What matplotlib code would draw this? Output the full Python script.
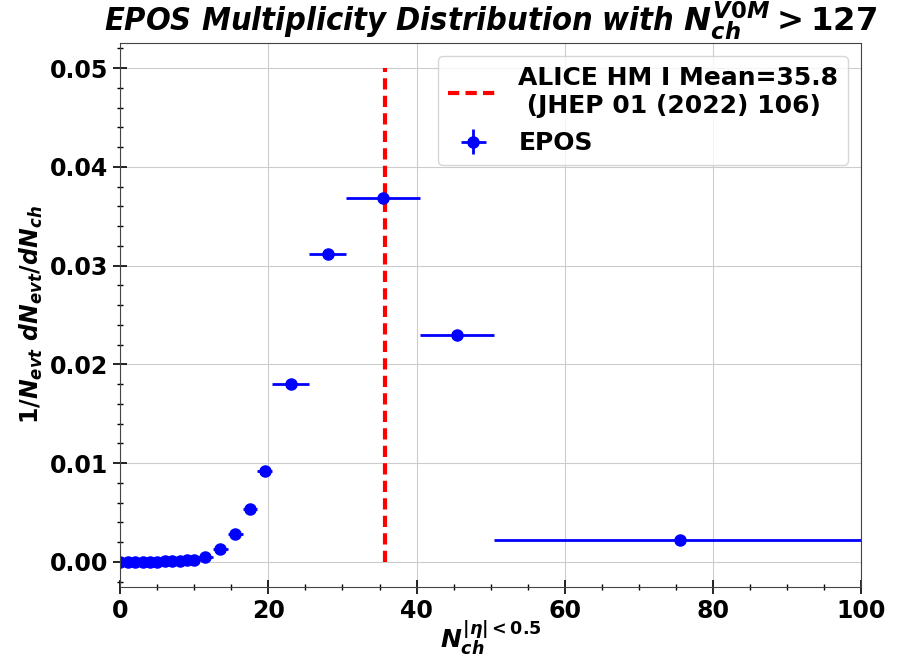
import matplotlib
matplotlib.use('Agg')
import matplotlib.pyplot as plt
from matplotlib.ticker import MultipleLocator

plt.rcParams['mathtext.fontset'] = 'custom'
plt.rcParams['mathtext.rm'] = 'DejaVu Sans:bold'
plt.rcParams['mathtext.it'] = 'DejaVu Sans:bold:italic'
plt.rcParams['mathtext.bf'] = 'DejaVu Sans:bold'

# EPOS multiplicity distribution (bin centres, half widths, values)
nch = [0, 1, 2, 3, 4, 5, 6, 7, 8, 9, 10,
       11.5, 13.5, 15.5, 17.5, 19.5, 23, 28, 35.5, 45.5, 75.5]
nch_err = [0.5, 0.5, 0.5, 0.5, 0.5, 0.5, 0.5, 0.5, 0.5, 0.5, 0.5,
           1, 1, 1, 1, 1, 2.5, 2.5, 5, 5, 25]
dndn = [0.00001, 0.00001, 0.00002, 0.00002, 0.00003, 0.00004, 0.00006,
        0.00008, 0.00011, 0.00015, 0.0002,
        0.0005, 0.0013, 0.0028, 0.0054, 0.0092, 0.0180, 0.0312, 0.0368,
        0.0230, 0.0022]
dndn_err = [0.00002, 0.00002, 0.00002, 0.00002, 0.00003, 0.00003, 0.00003,
            0.00004, 0.00004, 0.00005, 0.00005,
            0.00008, 0.0001, 0.0001, 0.00012, 0.00015, 0.00015, 0.0002,
            0.0002, 0.00015, 0.00005]

alice_mean = 35.8

fig = plt.figure(figsize=(9.01, 6.61), dpi=100)
ax = fig.add_axes([0.1335, 0.1124, 0.8221, 0.8219])

ax.vlines(alice_mean, 0, 0.05, colors='red', linewidth=3,
          linestyles=(0, (2.7, 1.5)),
          label='ALICE HM I Mean=35.8\n (JHEP 01 (2022) 106)')
ax.errorbar(nch, dndn, xerr=nch_err, yerr=dndn_err, fmt='o', color='blue',
            markersize=8, elinewidth=2, label='EPOS')

ax.set_xlim(0, 100)
ax.set_title(r'EPOS Multiplicity Distribution with $N_{ch}^{V0M}>127$',
             fontsize=23.3, fontweight='bold', fontstyle='italic',
             fontstretch='condensed', pad=4)
ax.set_xlabel(r'$N_{ch}^{|\eta|<0.5}$', fontsize=18, labelpad=-3)
ax.set_ylabel(r'$1/N_{evt}\ dN_{evt}/dN_{ch}$', fontsize=17, labelpad=4)

ax.xaxis.set_major_locator(MultipleLocator(20))
ax.xaxis.set_minor_locator(MultipleLocator(5))
ax.yaxis.set_major_locator(MultipleLocator(0.01))
ax.yaxis.set_minor_locator(MultipleLocator(0.002))
ax.tick_params(which='major', direction='inout', length=10, width=1.2,
               labelsize=17)
ax.tick_params(which='minor', direction='inout', length=5, width=1)
for lab in ax.get_xticklabels() + ax.get_yticklabels():
    lab.set_fontweight('bold')
ax.grid(True, color='#cccccc', linewidth=0.8)
for s in ax.spines.values():
    s.set_color('#444444')

ax.legend(loc='upper right', prop={'weight': 'bold', 'size': 18},
          handlelength=2.0, labelspacing=0.55)

fig.savefig('out.png', dpi=100)
